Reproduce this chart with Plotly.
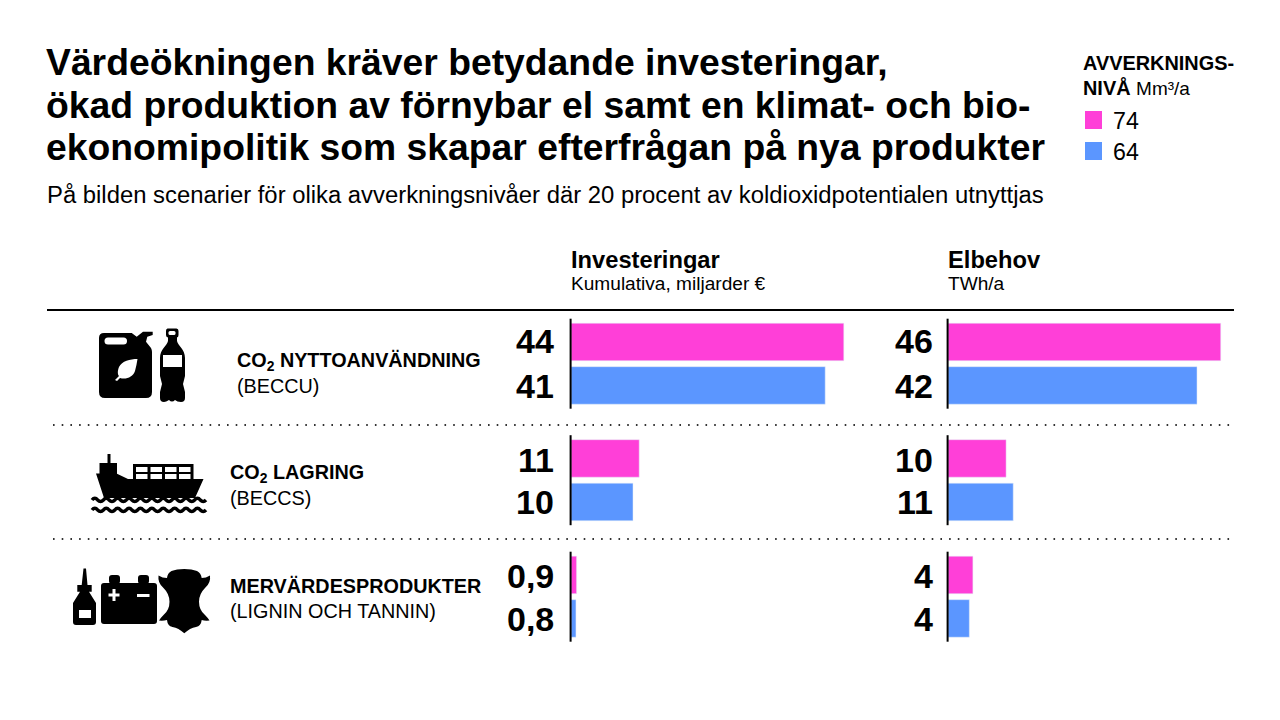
import plotly.graph_objects as go

CANVAS_W, CANVAS_H = 1280, 720

# Chart data
products = ["CO2 nyttoanvändning", "CO2 lagring", "Mervärdesprodukter"]
harvest_levels = ["74", "64"]
investment_74 = [44, 11, 0.9]
investment_64 = [41, 10, 0.8]
electricity_74 = [46, 9.8, 4.2]
electricity_64 = [42, 11, 3.6]
investment_labels_74 = ["44", "11", "0,9"]
investment_labels_64 = ["41", "10", "0,8"]

PINK = "#ff3fd8"
BLUE = "#5b96ff"
FONT = "Liberation Sans"

ROW_CENTERS = [363.7, 480.2, 596.7]
ROW_STEP = 116.5
LABEL_Y_74 = [341, 460, 576]
LABEL_Y_64 = [386, 502, 619]


def xdom(a, b):
    return [a / CANVAS_W, b / CANVAS_W]


def ydom(top, bottom):
    return [1 - bottom / CANVAS_H, 1 - top / CANVAS_H]


fig = go.Figure()
fig.add_bar(y=products, x=investment_74, orientation="h", marker_color=PINK, name=harvest_levels[0], xaxis="x", yaxis="y")
fig.add_bar(y=products, x=investment_64, orientation="h", marker_color=BLUE, name=harvest_levels[1], xaxis="x", yaxis="y")
fig.add_bar(y=products, x=electricity_74, orientation="h", marker_color=PINK, name=harvest_levels[0], xaxis="x2", yaxis="y")
fig.add_bar(y=products, x=electricity_64, orientation="h", marker_color=BLUE, name=harvest_levels[1], xaxis="x2", yaxis="y")
# Empty trace that keeps the pixel-sized overlay axes alive
fig.add_scatter(x=[], y=[], xaxis="x3", yaxis="y3", hoverinfo="skip")

annotations = []
shapes = []


def text(x, y, s, size, bold=False, anchor="left", valign="middle", color="#000"):
    annotations.append(dict(
        xref="x3", yref="y3", x=x, y=y, text=f"<b>{s}</b>" if bold else s, showarrow=False,
        xanchor=anchor, yanchor=valign, align=anchor,
        font=dict(family=FONT, size=size, color=color), borderpad=0, borderwidth=0,
    ))


def path(d, fill="#000", line=None, width=0):
    shapes.append(dict(
        type="path", xref="x3", yref="y3", path=d, layer="above",
        fillcolor=fill, line=dict(color=line or "rgba(0,0,0,0)", width=width),
    ))


def rect(x0, y0, x1, y1, fill="#000"):
    path(f"M{x0},{y0}H{x1}V{y1}H{x0}Z", fill)


def rrect(x0, y0, x1, y1, r, fill="#000"):
    path(
        f"M{x0+r},{y0}H{x1-r}Q{x1},{y0} {x1},{y0+r}V{y1-r}Q{x1},{y1} {x1-r},{y1}"
        f"H{x0+r}Q{x0},{y1} {x0},{y1-r}V{y0+r}Q{x0},{y0} {x0+r},{y0}Z", fill,
    )


def hline(x0, x1, y, width, color="#000", dash="solid"):
    shapes.append(dict(type="line", xref="x3", yref="y3", x0=x0, x1=x1, y0=y, y1=y,
                       line=dict(color=color, width=width, dash=dash), layer="above"))


def vline(x, y0, y1, width=2):
    shapes.append(dict(type="line", xref="x3", yref="y3", x0=x, x1=x, y0=y0, y1=y1,
                       line=dict(color="#000", width=width), layer="above"))


# Heading block
TITLE = 37.3
text(46, 62, "Värdeökningen kräver betydande investeringar,", TITLE, True)
text(46, 105, "ökad produktion av förnybar el samt en klimat- och bio-", TITLE, True)
text(46, 146.5, "ekonomipolitik som skapar efterfrågan på nya produkter", TITLE, True)
text(47, 194, "På bilden scenarier för olika avverkningsnivåer där 20 procent av koldioxidpotentialen utnyttjas", 23.85)

# Key for the two harvest levels
text(1083, 63, "AVVERKNINGS-", 19.9, True)
text(1083, 87, "<b>NIVÅ</b> <span style='font-size:19px'>Mm³/a</span>", 19.9)
rect(1085, 111, 1102, 129, PINK)
rect(1085, 142, 1102, 160, BLUE)
text(1113, 121, harvest_levels[0], 23.2)
text(1113, 152, harvest_levels[1], 23.2)

# Column headings
text(571, 260, "Investeringar", 23.7, True)
text(571, 283.5, "Kumulativa, miljarder €", 19.1)
text(948, 260, "Elbehov", 23.7, True)
text(948, 283.5, "TWh/a", 19.1)

hline(47, 1234, 310, 2)
hline(53, 1236, 425, 2, "#333", "1.6px,7.1px")
hline(53, 1236, 539, 2, "#333", "1.6px,7.1px")

# Row names
text(237, 361, "CO<sub>2</sub> NYTTOANVÄNDNING", 19.8, True)
text(237, 386, "(BECCU)", 19.8)
text(230, 473, "CO<sub>2</sub> LAGRING", 19.8, True)
text(230, 498, "(BECCS)", 19.8)
text(230, 586, "MERVÄRDESPRODUKTER", 19.8, True)
text(230, 611, "(LIGNIN OCH TANNIN)", 19.8)

# Value labels and baselines next to each pair of bars
for i, center in enumerate(ROW_CENTERS):
    text(553.5, LABEL_Y_74[i], investment_labels_74[i], 34, True, "right")
    text(553.5, LABEL_Y_64[i], investment_labels_64[i], 34, True, "right")
    text(932.5, LABEL_Y_74[i], f"{electricity_74[i]:.0f}", 34, True, "right")
    text(932.5, LABEL_Y_64[i], f"{electricity_64[i]:.0f}", 34, True, "right")
    vline(570.6, center - 45, center + 45)
    vline(947.6, center - 45, center + 45)

# Jerrycan
path("M104,333H131.7L136.7,336.7L143,331.7H152.7V335L147.3,336.7L146,341.7L151,348Q152,350 152,352"
     "V392Q152,398 146,398H105Q99,398 99,392V338Q99,333 104,333Z")
rrect(104.5, 337.5, 127, 344.5, 3.5, "#fff")
path("M137.5,359C130,359 122,361 119,367C117,372 118,375 119,376L115,380L117,381L120,378"
     "C126,380 133,377 135,371C136,367 137,363 137.5,359Z", "#fff")

# Plastic bottle
path("M167.5,328.5H176.5Q178.5,328.5 178.5,331V335Q178.5,337 177,337.5V341C178,346 185,349 185,358"
     "V376L183,384L185,392V398Q185,402 181,402Q177,402 175,400Q172,403 169,400Q166,402 164,402"
     "Q160,402 160,398V392L162,384L160,376V358C160,349 167,346 168,341V337.5Q166,337 166,335V331Q166,328.5 167.5,328.5Z")
rrect(168.5, 331, 175.5, 335, 1.5, "#fff")
rect(163, 355, 182, 367, "#fff")

# Cargo ship
rect(107.5, 454, 110.5, 465)
rect(99.5, 463, 117, 474)
path("M96,473.5H116.5L128,479H203.5L195,498H104Z")
rect(133, 464, 193.5, 480)
for x0 in (136, 150.5, 165, 179):
    rect(x0, 467, x0 + 11.5, 472, "#fff")
    rect(x0, 474, x0 + 11.5, 479, "#fff")
for cx in (110, 118, 126):
    path(f"M{cx-3},487a3,3 0 1,0 6,0a3,3 0 1,0 -6,0Z", "#fff")
for wave_y in (500, 510):
    d = f"M92,{wave_y}"
    for step in range(10):
        x = 92 + step * 11.4
        d += f"Q{x+2.85:.1f},{wave_y-3.5} {x+5.7:.1f},{wave_y}Q{x+8.55:.1f},{wave_y+3} {x+11.4:.1f},{wave_y}"
    path(d, "rgba(0,0,0,0)", "#000", 3.5)

# Adhesive bottle
path("M83.5,568.5H86L87.5,585H91.7V591.7H89L96,603V622Q96,625 93,625H76Q73,625 73,622V603L80,591.7H77.3V585H81.7Z")
rect(79, 610, 91, 618, "#fff")

# Battery
rrect(109, 575, 120, 584, 3)
rrect(138, 575, 149, 584, 3)
rrect(101, 583, 157, 624, 3)
rect(112.5, 589, 115.5, 601, "#fff")
rect(108.5, 593.5, 119.5, 596.5, "#fff")
rect(137, 594, 149.5, 597, "#fff")

# Leather hide
path("M184.3,569Q192,569 197,571Q201,573 201.7,578Q206,578 210,575.5Q211,583 205,588"
     "Q199,594 199,601.7Q199,610 205,615Q208,618 209.5,620.5Q205,621 201.7,620Q201,626 196,627"
     "Q190,628 184.3,633.3Q178.5,628 172.5,627Q167.5,626 167,620Q163,621 159,620.5"
     "Q160.5,618 163.5,615Q169.5,610 169.5,601.7Q169.5,594 163.5,588Q157.5,583 158.5,575.5"
     "Q162.5,578 167,578Q167.5,573 171.5,571Q176.5,569 184.3,569Z")

fig.update_layout(
    width=CANVAS_W, height=CANVAS_H, autosize=False,
    margin=dict(l=0, r=0, t=0, b=0),
    paper_bgcolor="#fff", plot_bgcolor="rgba(0,0,0,0)",
    barmode="group", bargap=0.253, bargroupgap=0.138,
    showlegend=False,
    annotations=annotations, shapes=shapes,
    xaxis=dict(domain=xdom(571, 881), range=[0, 50], visible=False, anchor="y"),
    xaxis2=dict(domain=xdom(948, 1232.6), range=[0, 48], visible=False, anchor="y"),
    yaxis=dict(
        domain=ydom(ROW_CENTERS[0] - ROW_STEP / 2, ROW_CENTERS[2] + ROW_STEP / 2),
        autorange=False, range=[2.5, -0.5], type="category",
        categoryorder="array", categoryarray=products, visible=False, anchor="x",
    ),
    # Pixel-sized overlay used for text, rules and pictograms
    xaxis3=dict(domain=[0, 1], range=[0, CANVAS_W], visible=False, anchor="y3"),
    yaxis3=dict(domain=[0, 1], range=[CANVAS_H, 0], visible=False, anchor="x3"),
)

fig.write_html("out.html", config={"displayModeBar": False, "responsive": False})
